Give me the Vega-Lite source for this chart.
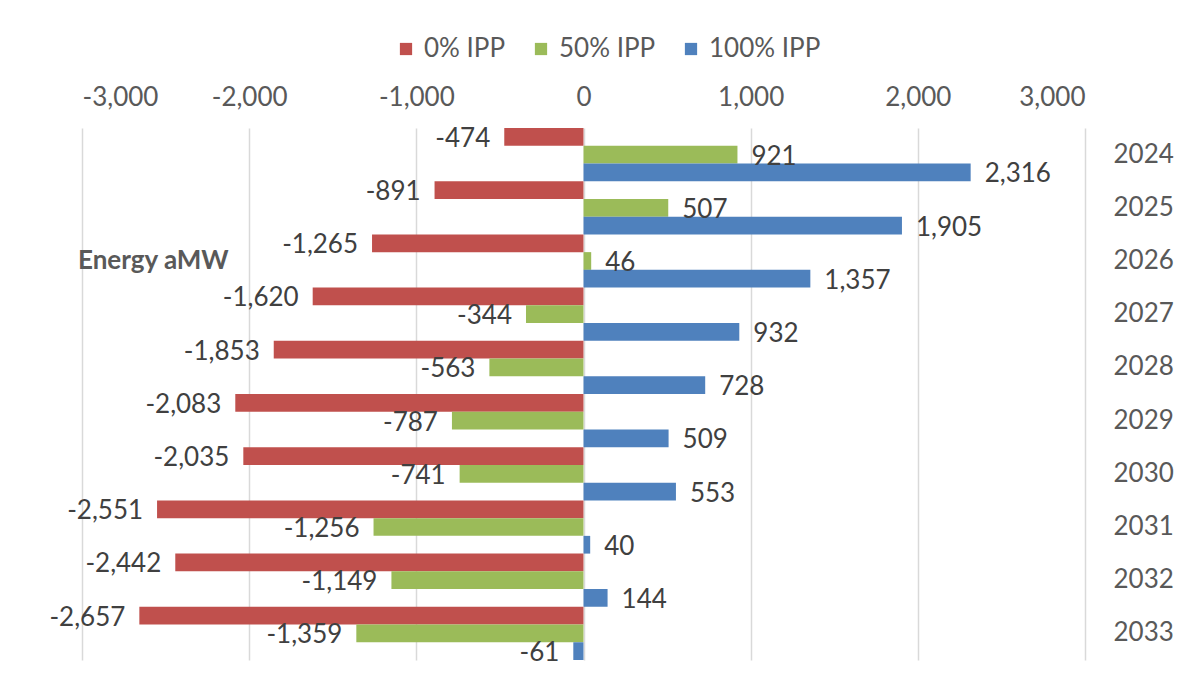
{
  "$schema": "https://vega.github.io/schema/vega-lite/v6.json",
  "autosize": {"type": "none"},
  "width": 1003,
  "height": 532,
  "padding": {"left": 82, "top": 128, "right": 100, "bottom": 30},
  "background": "white",
  "config": {
    "locale": {"number": {"decimal": ".", "thousands": ",", "grouping": [3], "currency": ["$", ""], "minus": "-"}},
    "view": {"stroke": null},
    "font": "Lato",
    "axis": {"labelFont": "Lato", "labelColor": "#595959", "labelFontSize": 26},
    "legend": {"labelFont": "Lato", "labelColor": "#595959", "labelFontSize": 26}
  },
  "layer": [
    {
      "data": {
        "values": [
          {"year": "2024", "series": "0% IPP", "value": -474},
          {"year": "2024", "series": "50% IPP", "value": 921},
          {"year": "2024", "series": "100% IPP", "value": 2316},
          {"year": "2025", "series": "0% IPP", "value": -891},
          {"year": "2025", "series": "50% IPP", "value": 507},
          {"year": "2025", "series": "100% IPP", "value": 1905},
          {"year": "2026", "series": "0% IPP", "value": -1265},
          {"year": "2026", "series": "50% IPP", "value": 46},
          {"year": "2026", "series": "100% IPP", "value": 1357},
          {"year": "2027", "series": "0% IPP", "value": -1620},
          {"year": "2027", "series": "50% IPP", "value": -344},
          {"year": "2027", "series": "100% IPP", "value": 932},
          {"year": "2028", "series": "0% IPP", "value": -1853},
          {"year": "2028", "series": "50% IPP", "value": -563},
          {"year": "2028", "series": "100% IPP", "value": 728},
          {"year": "2029", "series": "0% IPP", "value": -2083},
          {"year": "2029", "series": "50% IPP", "value": -787},
          {"year": "2029", "series": "100% IPP", "value": 509},
          {"year": "2030", "series": "0% IPP", "value": -2035},
          {"year": "2030", "series": "50% IPP", "value": -741},
          {"year": "2030", "series": "100% IPP", "value": 553},
          {"year": "2031", "series": "0% IPP", "value": -2551},
          {"year": "2031", "series": "50% IPP", "value": -1256},
          {"year": "2031", "series": "100% IPP", "value": 40},
          {"year": "2032", "series": "0% IPP", "value": -2442},
          {"year": "2032", "series": "50% IPP", "value": -1149},
          {"year": "2032", "series": "100% IPP", "value": 144},
          {"year": "2033", "series": "0% IPP", "value": -2657},
          {"year": "2033", "series": "50% IPP", "value": -1359},
          {"year": "2033", "series": "100% IPP", "value": -61}
        ]
      },
      "encoding": {
        "x": {
          "field": "value",
          "type": "quantitative",
          "scale": {"domain": [-3000, 3000], "nice": false, "zero": false},
          "axis": {
            "orient": "top",
            "title": null,
            "values": [-3000, -2000, -1000, 0, 1000, 2000, 3000],
            "format": ",",
            "labelExpr": "format(datum.value, ',')",
            "ticks": false,
            "domain": false,
            "labelPadding": 18,
            "grid": true,
            "gridColor": "#D9D9D9",
            "gridWidth": 1.5
          }
        },
        "y": {
          "field": "year",
          "type": "ordinal",
          "scale": {"paddingInner": 0, "paddingOuter": 0},
          "axis": {
            "orient": "right",
            "title": null,
            "ticks": false,
            "domain": false,
            "labelPadding": 28,
            "labelAlign": "left"
          }
        },
        "yOffset": {
          "field": "series",
          "type": "nominal",
          "sort": ["0% IPP", "50% IPP", "100% IPP"],
          "scale": {"paddingInner": 0, "paddingOuter": 0}
        }
      },
      "layer": [
        {
          "mark": {"type": "bar"},
          "encoding": {
            "x2": {"datum": 0},
            "color": {
              "field": "series",
              "type": "nominal",
              "sort": ["0% IPP", "50% IPP", "100% IPP"],
              "scale": {"domain": ["0% IPP", "50% IPP", "100% IPP"], "range": ["#C0504D", "#9BBB59", "#4F81BD"]},
              "legend": {
                "orient": "none",
                "direction": "horizontal",
                "legendX": 311,
                "legendY": -92,
                "title": null,
                "symbolType": "square",
                "symbolSize": 150,
                "symbolStrokeWidth": 0,
                "columnPadding": 22,
                "labelOffset": 5
              }
            }
          }
        },
        {
          "transform": [{"filter": "datum.value >= 0"}],
          "mark": {"type": "text", "align": "left", "baseline": "middle", "dx": 14, "dy": 2, "fontSize": 26, "color": "#404040"},
          "encoding": {"text": {"field": "value", "type": "quantitative", "format": ","}}
        },
        {
          "transform": [{"filter": "datum.value < 0"}],
          "mark": {"type": "text", "align": "right", "baseline": "middle", "dx": -14, "dy": 2, "fontSize": 26, "color": "#404040"},
          "encoding": {"text": {"field": "value", "type": "quantitative", "format": ","}}
        }
      ]
    },
    {
      "mark": {"type": "rule", "color": "black", "strokeWidth": 4},
      "encoding": {"x": {"datum": 0, "type": "quantitative"}}
    },
    {
      "data": {"values": [{"label": "Energy aMW", "pos": -3000, "year": "2026"}]},
      "mark": {"type": "text", "align": "left", "baseline": "middle", "fontSize": 26, "fontWeight": "bold", "color": "#595959", "dx": -4},
      "encoding": {
        "x": {"field": "pos", "type": "quantitative"},
        "y": {"field": "year", "type": "ordinal"},
        "text": {"field": "label", "type": "nominal"}
      }
    }
  ]
}
